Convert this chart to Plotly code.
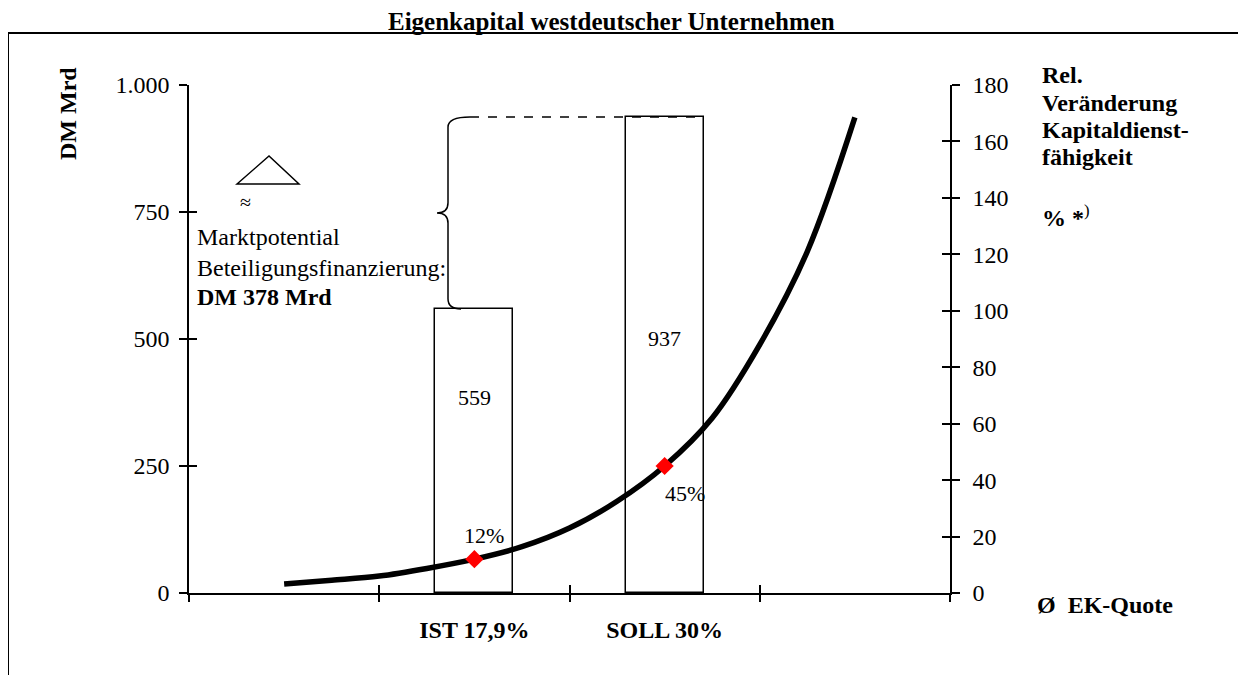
import plotly.graph_objects as go

# ---------------- data ----------------
categories = ["IST 17,9%", "SOLL 30%"]
cat_pos = [1.5, 2.5]
bar_values = [559, 937]
bar_labels = ["559", "937"]

# relative change of debt service capacity (right axis)
curve_x = [0.5, 0.75, 1.0, 1.25, 1.5, 1.75, 2.0, 2.25, 2.5, 2.75, 3.0, 3.25, 3.5]
curve_y = [3.2, 4.5, 6.0, 8.7, 12.0, 16.4, 23.0, 32.5, 45.0, 62.0, 88.0, 121.0, 168.5]

point_values = [12, 45]
point_labels = ["12%", "45%"]

left_tickvals = [0, 250, 500, 750, 1000]
left_ticktext = ["0", "250", "500", "750", "1.000"]
right_tickvals = [0, 20, 40, 60, 80, 100, 120, 140, 160, 180]
x_bounds = [0, 1, 2, 3, 4]

# ---------------- layout helpers ----------------
OFF = 8  # page body margin of the html page
W, H = 1246 - OFF, 675 - OFF
L, R, T, B = 189 - OFF, 950 - OFF, 85 - OFF, 593 - OFF
FONT = "Liberation Serif, Times New Roman, serif"


def px(p):
    return (p - OFF - L) / (R - L)


def py(p):
    return (B - (p - OFF)) / (B - T)


fig = go.Figure()

# bars
fig.add_trace(go.Bar(
    x=cat_pos, y=bar_values, width=0.41,
    marker=dict(color="white", line=dict(color="black", width=1.5)),
    showlegend=False, hoverinfo="skip", xaxis="x", yaxis="y"))

# curve
fig.add_trace(go.Scatter(
    x=curve_x, y=curve_y, mode="lines",
    line=dict(color="black", width=5.5, shape="spline"),
    showlegend=False, xaxis="x", yaxis="y2"))

# red points
fig.add_trace(go.Scatter(
    x=cat_pos, y=point_values, mode="markers",
    marker=dict(symbol="diamond", size=14, color="red"),
    showlegend=False, xaxis="x", yaxis="y2"))

# dummy traces to carry tick-only overlay axes
for xa, ya in [("x2", "y"), ("x3", "y"), ("x", "y3"), ("x", "y4")]:
    fig.add_trace(go.Scatter(x=[None], y=[None], xaxis=xa, yaxis=ya,
                             showlegend=False, hoverinfo="skip"))

axis_common = dict(showgrid=False, zeroline=False, color="black",
                   tickcolor="black", tickwidth=1.5)

fig.update_layout(
    width=W, height=H,
    margin=dict(l=L, r=W - R, t=T, b=H - B),
    paper_bgcolor="white", plot_bgcolor="white",
    font=dict(family=FONT, size=24, color="black"),
    bargap=0,
    xaxis=dict(range=[0, 4], tickvals=cat_pos,
               ticktext=["<b>%s</b>" % c for c in categories],
               ticks="", showline=True, linecolor="black", linewidth=1.5,
               ticklabelstandoff=14, tickfont=dict(size=24), **axis_common),
    xaxis2=dict(range=[0, 4], overlaying="x", anchor="y", side="bottom",
                tickvals=x_bounds, ticks="outside", ticklen=8,
                showticklabels=False, showline=False, **axis_common),
    xaxis3=dict(range=[0, 4], overlaying="x", anchor="y", side="bottom",
                tickvals=x_bounds, ticks="inside", ticklen=8,
                showticklabels=False, showline=False, **axis_common),
    yaxis=dict(range=[0, 1000], tickvals=left_tickvals, ticktext=left_ticktext,
               ticks="outside", ticklen=8, showline=True, linecolor="black",
               linewidth=1.5, ticklabelstandoff=5, tickfont=dict(size=24),
               **axis_common),
    yaxis2=dict(range=[0, 180], overlaying="y", side="right", anchor="x",
                tickvals=right_tickvals, ticks="outside", ticklen=8,
                showline=True, linecolor="black", linewidth=1.5,
                ticklabelstandoff=8, tickfont=dict(size=24), **axis_common),
    yaxis3=dict(range=[0, 1000], overlaying="y", side="left", anchor="x",
                tickvals=left_tickvals, ticks="inside", ticklen=8,
                showticklabels=False, showline=False, **axis_common),
    yaxis4=dict(range=[0, 180], overlaying="y", side="right", anchor="x",
                tickvals=right_tickvals, ticks="inside", ticklen=8,
                showticklabels=False, showline=False, **axis_common),
)

# ---------------- shapes ----------------
shapes = []
# outer frame
shapes.append(dict(type="rect", xref="paper", yref="paper",
                   x0=px(8), x1=px(1239), y0=py(720), y1=py(33),
                   line=dict(color="black", width=2)))

# brace between IST and SOLL levels
ist, soll = bar_values
mid = (ist + soll) / 2
xc, xt = px(448) * 4, px(437) * 4
xtop, xbot = px(470) * 4, px(461) * 4
r = 20
brace = (f"M {xtop},{soll} Q {xc},{soll} {xc},{soll - r} "
         f"L {xc},{mid + r} Q {xc},{mid} {xt},{mid} "
         f"Q {xc},{mid} {xc},{mid - r} "
         f"L {xc},{ist + r} Q {xc},{ist} {xbot},{ist}")
shapes.append(dict(type="path", xref="x", yref="y", path=brace,
                   line=dict(color="black", width=1.5)))
# dashed level line to SOLL bar
shapes.append(dict(type="line", xref="x", yref="y", x0=xtop, x1=cat_pos[1] + 0.205,
                   y0=soll, y1=soll, line=dict(color="black", width=1.5, dash="dash")))
# triangle (Delta) symbol
shapes.append(dict(type="path", xref="paper", yref="paper",
                   path=f"M {px(237)},{py(184)} L {px(269)},{py(156)} L {px(299)},{py(184)} Z",
                   line=dict(color="black", width=1.5)))
fig.update_layout(shapes=shapes)

# ---------------- annotations ----------------
ann = []


def note(text, x, y, size=24, xanchor="left", yanchor="middle", **kw):
    ann.append(dict(text=text, x=px(x), y=py(y), xref="paper", yref="paper",
                    showarrow=False, xanchor=xanchor, yanchor=yanchor,
                    font=dict(family=FONT, size=size, color="black"), **kw))


note("<b>Eigenkapital westdeutscher Unternehmen</b>", 611, 21.5, size=25, xanchor="center")
note("<b>DM Mrd</b>", 68, 113, xanchor="center", textangle=-90)
for t, yy in zip(["Rel.", "Veränderung", "Kapitaldienst-", "fähigkeit"], [75, 103, 130, 157]):
    note(f"<b>{t}</b>", 1040, yy)
note("<b>% *</b><sup>)</sup>", 1040, 216)
note("<b>Ø  EK-Quote</b>", 1035, 605)
note("≈", 245, 202, size=20, xanchor="center")
note("Marktpotential", 195, 237)
note("Beteiligungsfinanzierung:", 195, 268)
note(f"<b>DM {soll - ist} Mrd</b>", 195, 297)

# bar value labels
for xv, lab, yy in zip(cat_pos, bar_labels, [397, 338]):
    ann.append(dict(text=lab, x=xv, y=(B - (yy - OFF)) / (B - T) * 1000, xref="x", yref="y",
                    showarrow=False, font=dict(family=FONT, size=22, color="black")))
# point labels, placed relative to the points on the right axis
for xv, yv, lab, dx, dy in zip(cat_pos, point_values, point_labels, [10, 20], [24, -27]):
    ann.append(dict(text=lab, x=xv, y=yv, xref="x", yref="y2", showarrow=False,
                    xshift=dx, yshift=dy,
                    font=dict(family=FONT, size=22, color="black")))
fig.update_layout(annotations=ann)

fig.write_html("out.html")
